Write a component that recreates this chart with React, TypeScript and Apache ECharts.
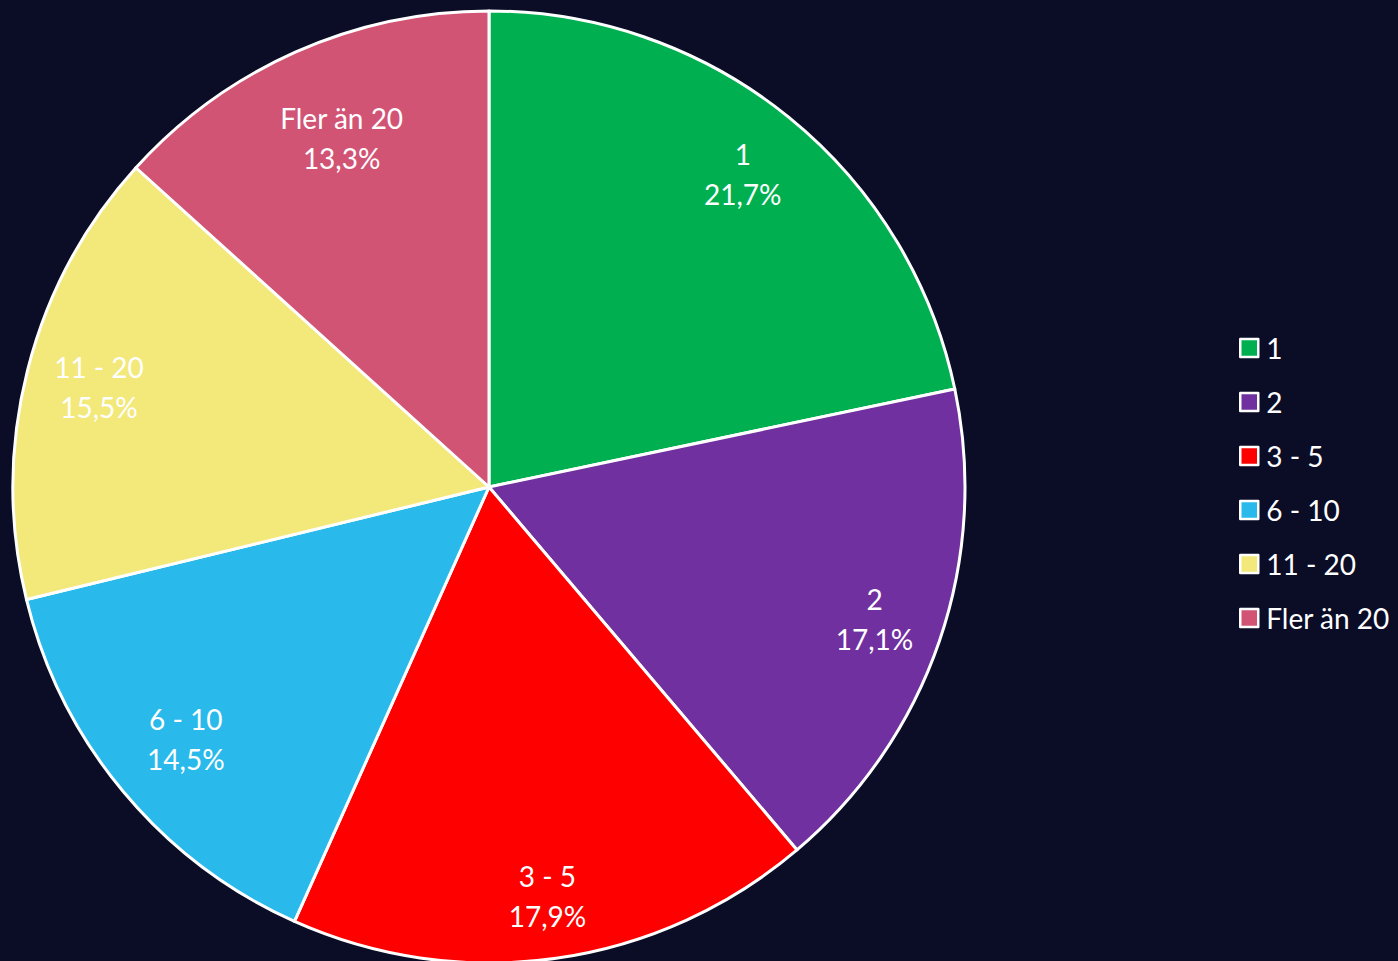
import React, { useEffect, useRef } from "react";
import * as echarts from "echarts";

const categories = ["1", "2", "3 - 5", "6 - 10", "11 - 20", "Fler än 20"];
const values = [21.7, 17.1, 17.9, 14.5, 15.5, 13.3];
const colors = ["#00b050", "#7030a0", "#ff0000", "#29b9eb", "#f3e87a", "#d25475"];
// small per-slice nudges of the data labels (Excel "best fit" placement)
const labelNudgeX = [-3, 0, 1, 10, 5, 18];
const labelNudgeY = [3, 0, 6, -9, 0, 23];

const FONT = "Lato, 'Open Sans', 'DejaVu Sans', sans-serif";

export default function App() {
  const ref = useRef<HTMLDivElement>(null);
  useEffect(() => {
    document.body.style.margin = "0";
    const chart = echarts.init(ref.current!, null, { renderer: "svg" });
    const data = categories.map((c, i) => ({
      name: c,
      value: values[i],
      itemStyle: { color: colors[i] },
    }));
    chart.setOption({
      animation: false,
      backgroundColor: "#0b0d26",
      textStyle: { fontFamily: FONT },
      legend: {
        orient: "vertical",
        left: 1239,
        top: 334,
        padding: 0,
        itemWidth: 18,
        itemHeight: 18,
        itemGap: 26,
        icon: "rect",
        itemStyle: { borderColor: "#ffffff", borderWidth: 2.5 },
        textStyle: { color: "#ffffff", fontSize: 28, fontFamily: FONT, padding: [0, 0, 0, 3] },
        data: categories,
      },
      series: [
        {
          type: "pie",
          center: [489, 487],
          radius: 476,
          startAngle: 90,
          clockwise: true,
          data,
          label: { show: false },
          labelLine: { show: false },
          itemStyle: { borderColor: "#ffffff", borderWidth: 3 },
          emphasis: { disabled: true },
        },
        {
          type: "pie",
          center: [489, 487],
          radius: [333, 476],
          startAngle: 90,
          clockwise: true,
          silent: true,
          legendHoverLink: false,
          data: categories.map((c, i) => ({ name: c, value: values[i] })),
          itemStyle: { color: "rgba(0,0,0,0)", borderWidth: 0 },
          label: {
            show: true,
            position: "inside",
            color: "#ffffff",
            fontSize: 28,
            lineHeight: 40,
            fontFamily: FONT,
            formatter: (p: any) => `${p.name}\n${p.value.toFixed(1).replace(".", ",")}%`,
          },
          labelLayout: (p: any) => ({ dx: labelNudgeX[p.dataIndex], dy: labelNudgeY[p.dataIndex] }),
          labelLine: { show: false },
          emphasis: { disabled: true },
        },
      ],
    });
    return () => chart.dispose();
  }, []);
  return <div ref={ref} style={{ position: "fixed", left: 0, top: 0, width: 1398, height: 961 }} />;
}
